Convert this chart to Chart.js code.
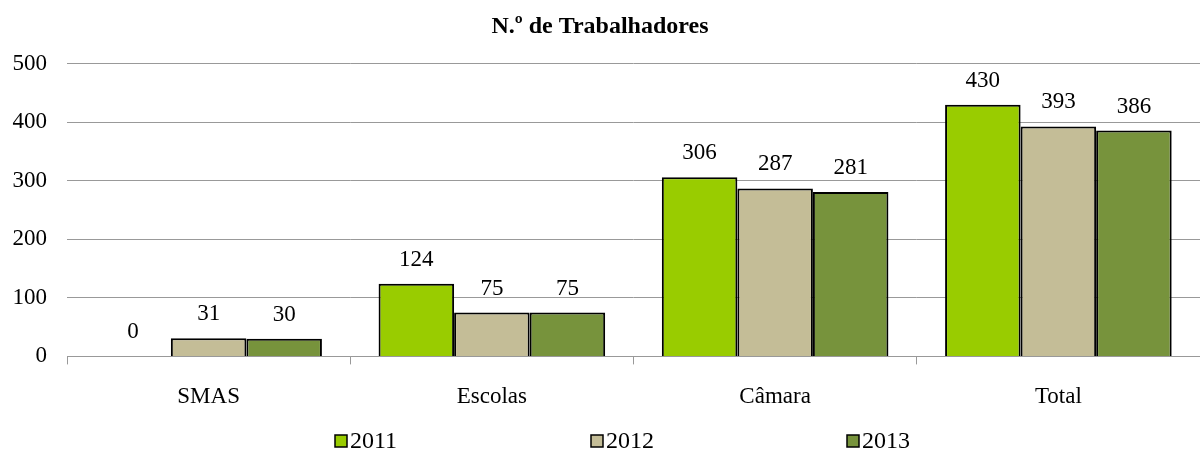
<!DOCTYPE html>
<html>
<head>
<meta charset="utf-8">
<script src="https://cdn.jsdelivr.net/npm/chart.js@4/dist/chart.umd.min.js"></script>
<style>
  html, body { margin: 0; padding: 0; background: #fff; }
  #wrap { width: 1200px; height: 452px; }
</style>
</head>
<body>
<div id="wrap"><canvas id="myChart" width="1200" height="452"></canvas></div>
<script>
var categories = ['SMAS', 'Escolas', 'Câmara', 'Total'];
var years = ['2011', '2012', '2013'];
var values2011 = [0, 124, 306, 430];
var values2012 = [31, 75, 287, 393];
var values2013 = [30, 75, 281, 386];
var yTicks = [0, 100, 200, 300, 400, 500];

var colors = ['#99CC00', '#C4BD97', '#77933C'];
var serif = '"Liberation Serif", "Times New Roman", serif';

// draw value labels above each bar
var valueLabels = {
	id: 'valueLabels',
	afterDatasetsDraw: function(chart) {
		var ctx = chart.ctx;
		ctx.save();
		ctx.font = '23px ' + serif;
		ctx.fillStyle = '#000';
		ctx.textAlign = 'center';
		ctx.textBaseline = 'middle';
		chart.data.datasets.forEach(function(ds, i) {
			chart.getDatasetMeta(i).data.forEach(function(bar, j) {
				ctx.fillText(String(ds.data[j]), bar.x, bar.y - 24);
			});
		});
		ctx.restore();
	}
};

// spread-out legend along the bottom
var wideLegend = {
	id: 'wideLegend',
	afterDraw: function(chart) {
		var ctx = chart.ctx;
		var y = chart.height - 11;
		var x = chart.width / 2 - 265;
		ctx.save();
		ctx.font = '24px ' + serif;
		ctx.textBaseline = 'middle';
		ctx.textAlign = 'left';
		chart.data.datasets.forEach(function(ds, i) {
			ctx.fillStyle = ds.backgroundColor;
			ctx.fillRect(x, y - 6, 12, 12);
			ctx.strokeStyle = '#000';
			ctx.lineWidth = 1.5;
			ctx.strokeRect(x, y - 6, 12, 12);
			ctx.fillStyle = '#000';
			ctx.fillText(ds.label, x + 15, y + 1);
			x += 256;
		});
		ctx.restore();
	}
};

var ctx = document.getElementById('myChart').getContext('2d');
var myChart = new Chart(ctx, {
	type: 'bar',
	data: {
		labels: categories,
		datasets: [
			{ label: years[0], data: values2011, backgroundColor: colors[0], borderColor: '#000', borderWidth: 2 },
			{ label: years[1], data: values2012, backgroundColor: colors[1], borderColor: '#000', borderWidth: 2 },
			{ label: years[2], data: values2013, backgroundColor: colors[2], borderColor: '#000', borderWidth: 2 }
		]
	},
	options: {
		responsive: false,
		animation: false,
		layout: { padding: { left: 0, right: 0, top: 0, bottom: 22 } },
		datasets: { bar: { categoryPercentage: 0.8, barPercentage: 1.0 } },
		plugins: {
			title: {
				display: true,
				text: 'N.º de Trabalhadores',
				color: '#000',
				font: { family: serif, size: 24, weight: 'bold' },
				padding: { top: 12, bottom: 23 }
			},
			legend: { display: false },
			tooltip: { enabled: false }
		},
		scales: {
			x: {
				grid: {
					offset: true,
					drawOnChartArea: false,
					drawTicks: true,
					tickLength: 8,
					color: '#999'
				},
				border: { display: true, color: '#999' },
				ticks: { color: '#000', font: { family: serif, size: 23 }, padding: 19 }
			},
			y: {
				min: 0,
				max: 500,
				afterBuildTicks: function(axis) {
					axis.ticks = yTicks.map(function(v) { return { value: v }; });
				},
				afterFit: function(axis) { axis.width = 67; },
				grid: { color: '#999', drawTicks: false },
				border: { display: false },
				ticks: { color: '#000', font: { family: serif, size: 23 }, padding: 20 }
			}
		}
	},
	plugins: [valueLabels, wideLegend]
});
</script>
</body>
</html>
